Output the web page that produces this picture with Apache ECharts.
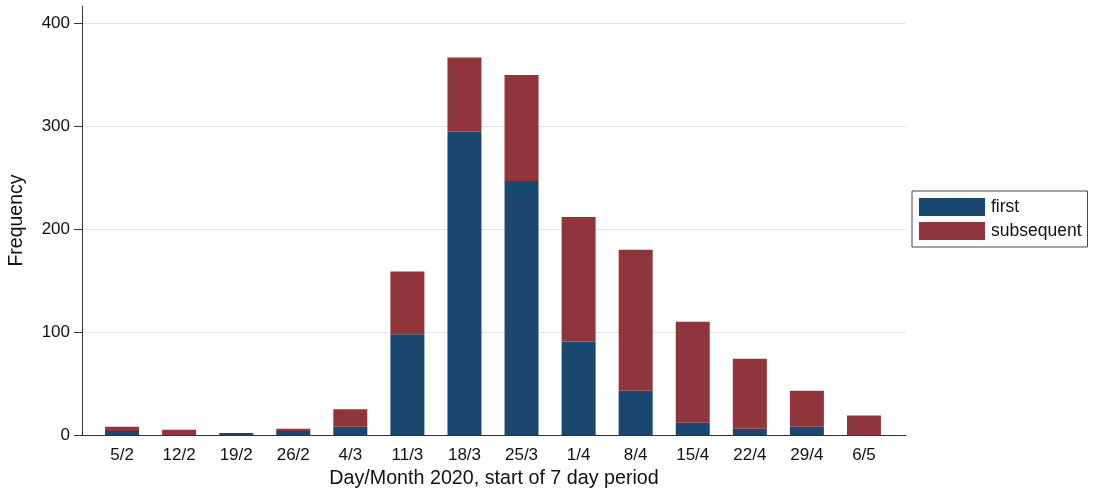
<!DOCTYPE html>
<html>
<head>
<meta charset="utf-8">
<script src="https://cdn.jsdelivr.net/npm/echarts@6/dist/echarts.min.js"></script>
<style>
  html, body { margin: 0; padding: 0; background: #fff; }
  #main { width: 1098px; height: 492px; }
</style>
</head>
<body>
<div id="main"></div>
<script>
// 每周起始日期
var weeks = ['5/2', '12/2', '19/2', '26/2', '4/3', '11/3', '18/3', '25/3', '1/4', '8/4', '15/4', '22/4', '29/4', '6/5'];
var firstVals = [4, 0, 2, 4, 8, 98, 295, 247, 91, 43, 12, 6, 8, 0];
var subsequentVals = [4, 5, 0, 2, 17, 61, 72, 103, 121, 137, 98, 68, 35, 19];
var yTicks = [0, 100, 200, 300, 400];
var yMax = 417;

var option = {
    backgroundColor: '#fff',
    animation: false,
    textStyle: { fontFamily: 'Liberation Sans, Arial, sans-serif' },
    // grid 0: 坐标轴线、网格线；grid 1: 柱子
    grid: [
        { left: 82, right: 192, top: 6, bottom: 57, outerBoundsMode: 'none', containLabel: false },
        { left: 93.5, right: 205.5, top: 6, bottom: 57, outerBoundsMode: 'none', containLabel: false }
    ],
    legend: {
        orient: 'vertical',
        left: 912,
        top: 191,
        data: ['first', 'subsequent'],
        itemWidth: 66,
        itemHeight: 18,
        itemGap: 6,
        padding: [7, 6, 7, 7],
        borderColor: '#444',
        borderWidth: 1,
        icon: 'rect',
        textStyle: { fontSize: 17.5, color: '#111', padding: [0, 0, 0, 1] }
    },
    xAxis: [
        {
            gridIndex: 0,
            type: 'value',
            min: 0,
            max: 1,
            name: 'Day/Month 2020, start of 7 day period',
            nameLocation: 'middle',
            nameGap: 34,
            nameTextStyle: { fontSize: 19.7, color: '#111' },
            axisLine: { show: true, lineStyle: { color: '#333', width: 1 } },
            axisTick: { show: false },
            axisLabel: { show: false },
            splitLine: { show: false }
        },
        {
            gridIndex: 1,
            type: 'category',
            data: weeks,
            axisLine: { show: false },
            axisTick: { show: false },
            axisLabel: { fontSize: 17, color: '#111', margin: 12 }
        }
    ],
    yAxis: [
        {
            gridIndex: 0,
            type: 'value',
            min: 0,
            max: yMax,
            name: 'Frequency',
            nameLocation: 'middle',
            nameGap: 55,
            nameTextStyle: { fontSize: 19.5, color: '#111' },
            axisLine: { show: true, lineStyle: { color: '#333', width: 1 } },
            axisTick: { show: true, length: 8, customValues: yTicks, lineStyle: { color: '#333' } },
            axisLabel: { customValues: yTicks, fontSize: 17, color: '#111', margin: 12 },
            splitLine: { show: true, lineStyle: { color: '#e3e3e3', width: 1 } }
        },
        {
            gridIndex: 1,
            type: 'value',
            min: 0,
            max: yMax,
            show: false,
            splitLine: { show: false }
        }
    ],
    series: [
        {
            name: 'first',
            type: 'bar',
            stack: 'total',
            xAxisIndex: 1,
            yAxisIndex: 1,
            barWidth: 34,
            itemStyle: { color: '#1a476f' },
            data: firstVals
        },
        {
            name: 'subsequent',
            type: 'bar',
            stack: 'total',
            xAxisIndex: 1,
            yAxisIndex: 1,
            barWidth: 34,
            itemStyle: { color: '#90353b' },
            data: subsequentVals
        }
    ]
};

var myChart = echarts.init(document.getElementById('main'));
myChart.setOption(option);
</script>
</body>
</html>
